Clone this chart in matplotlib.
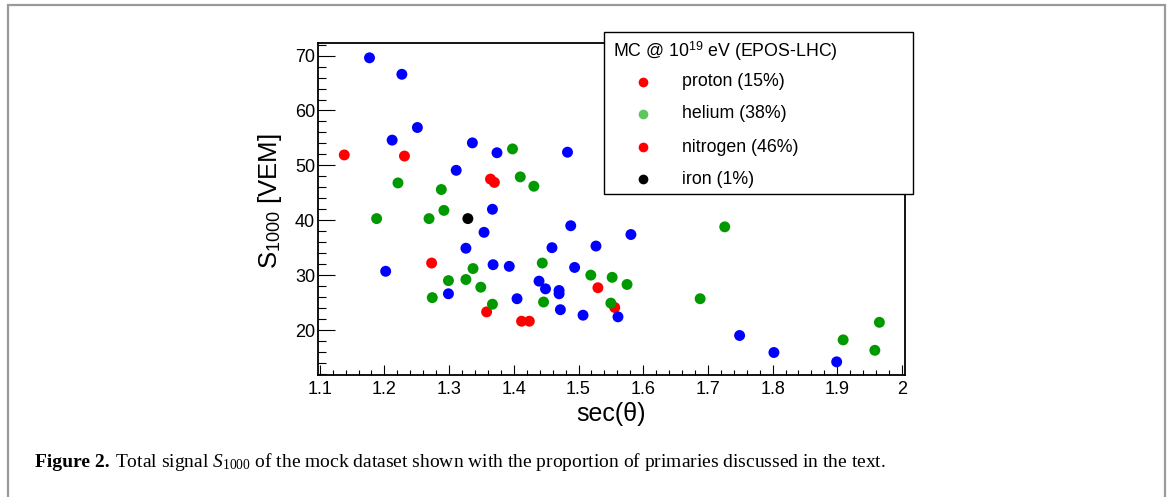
import matplotlib
matplotlib.use('Agg')
import matplotlib.pyplot as plt
from matplotlib.patches import Rectangle
from matplotlib.lines import Line2D
from matplotlib.ticker import MultipleLocator

plt.rcParams['font.family'] = ['Liberation Sans', 'DejaVu Sans']
plt.rcParams['mathtext.fontset'] = 'custom'
plt.rcParams['mathtext.rm'] = 'Liberation Serif'
plt.rcParams['mathtext.it'] = 'Liberation Serif:italic'
plt.rcParams['mathtext.bf'] = 'Liberation Serif:bold'
plt.rcParams['mathtext.sf'] = 'Liberation Sans'

# ---------------- data (sec(theta), S1000 [VEM]) ----------------
proton_x = [1.138, 1.231, 1.364, 1.370, 1.273, 1.358, 1.412, 1.424, 1.530, 1.556]
proton_y = [51.9, 51.7, 47.5, 46.9, 32.2, 23.3, 21.6, 21.6, 27.7, 24.1]

helium_x = [1.398, 1.221, 1.288, 1.410, 1.431, 1.188, 1.269, 1.292, 1.274, 1.299,
            1.326, 1.337, 1.349, 1.367, 1.444, 1.446, 1.519, 1.552, 1.575, 1.550,
            1.726, 1.688, 1.909, 1.965, 1.958]
helium_y = [53.0, 46.8, 45.6, 47.9, 46.2, 40.3, 40.3, 41.8, 25.9, 29.0,
            29.2, 31.2, 27.8, 24.7, 32.2, 25.1, 30.0, 29.6, 28.3, 24.9,
            38.8, 25.7, 18.2, 21.4, 16.3]

nitrogen_x = [1.177, 1.227, 1.251, 1.212, 1.336, 1.374, 1.483, 1.311, 1.367, 1.488,
              1.354, 1.326, 1.202, 1.368, 1.393, 1.299, 1.405, 1.439, 1.449, 1.470,
              1.470, 1.472, 1.459, 1.494, 1.527, 1.507, 1.581, 1.561, 1.749, 1.802,
              1.899]
nitrogen_y = [69.6, 66.6, 56.9, 54.6, 54.1, 52.3, 52.4, 49.1, 42.0, 39.0,
              37.8, 34.9, 30.7, 31.9, 31.6, 26.6, 25.7, 28.9, 27.5, 27.2,
              26.6, 23.7, 35.0, 31.4, 35.3, 22.7, 37.4, 22.4, 19.0, 15.9,
              14.2]

iron_x = [1.329]
iron_y = [40.3]

legend_labels = ['proton (15%)', 'helium (38%)', 'nitrogen (46%)', 'iron (1%)']
legend_colors = ['#ff0000', '#5cc85c', '#ff0000', '#000000']
legend_title = r'MC @ 10$^{\mathsf{19}}$ eV (EPOS-LHC)'

x_ticks = [1.1, 1.2, 1.3, 1.4, 1.5, 1.6, 1.7, 1.8, 1.9, 2.0]
x_ticklabels = ['1.1', '1.2', '1.3', '1.4', '1.5', '1.6', '1.7', '1.8', '1.9', '2']
y_ticks = [20, 30, 40, 50, 60, 70]

x_label = 'sec(\u03b8)'
y_label = r'S$_{\mathsf{1000}}$ [VEM]'
caption_bold = 'Figure 2.'
caption_rest = r'Total signal $S_{1000}$ of the mock dataset shown with the proportion of primaries discussed in the text.'

# ---------------- figure ----------------
W, H = 1168, 497
fig = plt.figure(figsize=(W / 100, H / 100), dpi=100)


def fx(px):
    return px / W


def fy(py):
    return 1 - py / H


# outer gray frame
fig.add_artist(Rectangle((fx(8), fy(520)), fx(1165) - fx(8), fy(5) - fy(520),
                         transform=fig.transFigure, fill=False,
                         edgecolor='#9a9a9a', linewidth=1.6, zorder=0))

ax = fig.add_axes([fx(318), fy(375), fx(905) - fx(318), fy(43) - fy(375)])

ms = 62
ax.scatter(proton_x, proton_y, s=ms, color='#ff0000', edgecolors='none', zorder=3)
ax.scatter(helium_x, helium_y, s=ms, color='#009a00', edgecolors='none', zorder=3)
ax.scatter(nitrogen_x, nitrogen_y, s=ms, color='#0000ff', edgecolors='none', zorder=3)
ax.scatter(iron_x, iron_y, s=ms, color='#000000', edgecolors='none', zorder=3)

ax.set_xlim(1.0974, 2.0046)
ax.set_ylim(11.8, 72.3)

ax.xaxis.set_minor_locator(MultipleLocator(0.02))
ax.yaxis.set_minor_locator(MultipleLocator(2))
ax.set_xticks(x_ticks)
ax.set_xticklabels(x_ticklabels)
ax.set_yticks(y_ticks)

ax.tick_params(axis='both', which='both', direction='in', top=False, right=False,
               width=0.8, labelsize=13, colors='black')
ax.tick_params(axis='y', which='major', length=12, pad=2)
ax.tick_params(axis='y', which='minor', length=5.5)
ax.tick_params(axis='x', which='major', length=7, pad=4.5)
ax.tick_params(axis='x', which='minor', length=3.5)

for sp in ax.spines.values():
    sp.set_linewidth(1.3)

ax.set_xlabel(x_label, fontsize=18, va='center')
ax.xaxis.set_label_coords(0.5, (375 - 414) / 332)
ax.set_ylabel(y_label, fontsize=18.5, va='center', rotation=90)
ax.yaxis.set_label_coords((270.5 - 318) / 587, (375 - 201) / 332)

# legend box (drawn above the frame)
fig.add_artist(Rectangle((fx(604), fy(194)), fx(913) - fx(604), fy(32) - fy(194),
                         transform=fig.transFigure, facecolor='white',
                         edgecolor='black', linewidth=1.0, zorder=10))
fig.text(fx(613), fy(51), legend_title, fontsize=12.8, va='center', ha='left', zorder=11)
ys = [82, 114, 147, 179]
for lab, col, yy in zip(legend_labels, legend_colors, ys):
    fig.add_artist(Line2D([fx(643)], [fy(yy)], marker='o', markersize=7,
                          color=col, markeredgewidth=0, linestyle='none',
                          transform=fig.transFigure, zorder=11))
    fig.text(fx(682), fy(yy), lab, fontsize=12.8, va='center', ha='left', zorder=11)

# caption
t1 = fig.text(fx(35), fy(467), caption_bold, fontsize=14, fontweight='bold',
              family='Liberation Serif', va='baseline', ha='left')
fig.canvas.draw()
bb = t1.get_window_extent()
fig.text((bb.x1 + 5) / W, fy(467), caption_rest, fontsize=14,
         family='Liberation Serif', va='baseline', ha='left')

fig.savefig('out.png', dpi=100)
